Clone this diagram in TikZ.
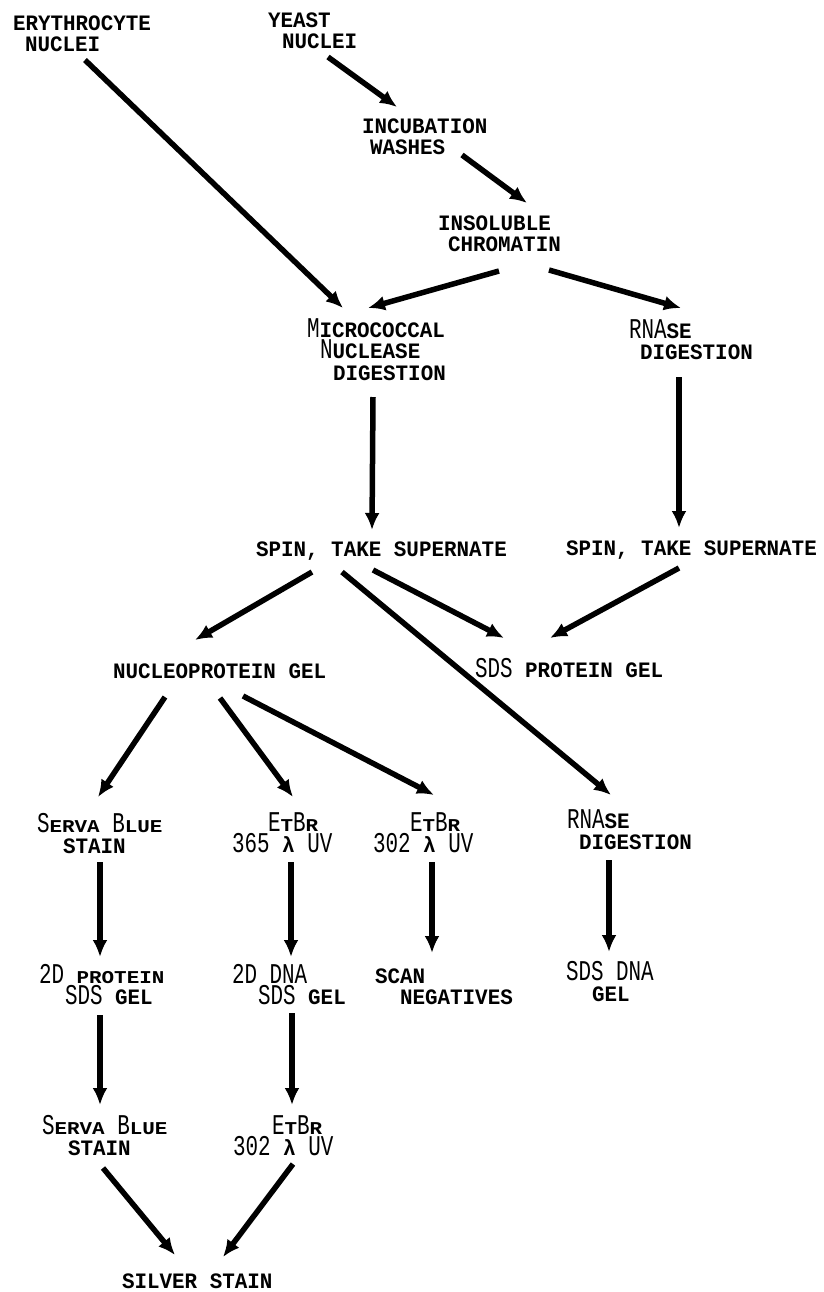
\documentclass[tikz,border=0pt]{standalone}
\usepackage{fontspec}
\usepackage{graphicx}
\usetikzlibrary{arrows.meta}
\newfontfamily\lblfont{Liberation Mono}[FakeStretch=0.95]
\newcommand\tall[1]{\scalebox{1}[1.3]{\mdseries #1}}
\newcommand\smc[1]{\scalebox{1}[0.82]{#1}}
\begin{document}
\begin{tikzpicture}[x=1bp,y=1bp,>={Latex[length=17bp,width=15bp]},line join=bevel,
  lbl/.style={anchor=base west,inner sep=0pt,outer sep=0pt,align=left,
    font=\lblfont\bfseries\fontsize{22bp}{21.5bp}\selectfont},
  flow/.style={->,line width=5.5bp}]
\useasboundingbox (0,0) rectangle (824,-1292);
%%
\node (ery) at (13,-51.5) [lbl] {ERYTHROCYTE\\\hspace*{12bp}NUCLEI};
\node (yeast) at (268,-48.5) [lbl] {YEAST\\\hspace*{14bp}NUCLEI};
\node (incub) at (362,-154.5) [lbl] {INCUBATION\\\hspace*{8bp}WASHES};
\node (insol) at (438,-251.5) [lbl] {INSOLUBLE\\\hspace*{10bp}CHROMATIN};
\node (micro) at (307,-380) [lbl] {\tall{M}ICROCOCCAL\\\hspace*{13bp}\tall{N}UCLEASE\\\hspace*{26bp}DIGESTION};
\node (rnasea) at (629,-359.5) [lbl] {\tall{RNA}SE\\\hspace*{11bp}DIGESTION};
\node (spina) at (256,-556) [lbl] {SPIN, TAKE SUPERNATE};
\node (spinb) at (566,-555) [lbl] {SPIN, TAKE SUPERNATE};
\node (nucgel) at (113,-678) [lbl] {NUCLEOPROTEIN GEL};
\node (sdsgel) at (475,-677) [lbl] {\tall{SDS} PROTEIN GEL};
\node (servaa) at (37,-853.5) [lbl] {\tall{S}\smc{ERVA} \tall{B}\smc{LUE}\\\hspace*{26bp}STAIN};
\node (etbra) at (232,-852.5) [lbl] {\hspace*{36bp}\tall{E}\smc{T}\tall{B}\smc{R}\\\tall{365} λ \tall{UV}};
\node (etbrb) at (373,-852.5) [lbl] {\hspace*{37bp}\tall{E}\smc{T}\tall{B}\smc{R}\\\tall{302} λ \tall{UV}};
\node (rnaseb) at (567,-849.5) [lbl] {\tall{RNA}SE\\\hspace*{12bp}DIGESTION};
\node (prot2d) at (39,-1004.5) [lbl] {\tall{2D} \smc{PROTEIN}\\\hspace*{26bp}\tall{SDS} GEL};
\node (dna2d) at (232,-1004.5) [lbl] {\tall{2D DNA}\\\hspace*{26bp}\tall{SDS} GEL};
\node (scan) at (375,-1004.5) [lbl] {SCAN\\\hspace*{25bp}NEGATIVES};
\node (sdsdna) at (566,-1001.5) [lbl] {\tall{SDS DNA}\\\hspace*{26bp}GEL};
\node (servab) at (42,-1155.5) [lbl] {\tall{S}\smc{ERVA} \tall{B}\smc{LUE}\\\hspace*{26bp}STAIN};
\node (etbrc) at (233,-1155.5) [lbl] {\hspace*{39bp}\tall{E}\smc{T}\tall{B}\smc{R}\\\tall{302} λ \tall{UV}};
\node (silver) at (122,-1288) [lbl] {SILVER STAIN};
%
\draw [flow] ([shift={(72,-8.5)}]ery.base west) -- ([shift={(36,72)}]micro.base west);
\draw [flow] ([shift={(60,-8.5)}]yeast.base west) -- ([shift={(35,47.5)}]incub.base west);
\draw [flow] ([shift={(100,-0.5)}]incub.base west) -- ([shift={(89,48.5)}]insol.base west);
\draw [flow] ([shift={(61,-19.5)}]insol.base west) -- ([shift={(61,72)}]micro.base west);
\draw [flow] ([shift={(111,-18.5)}]insol.base west) -- ([shift={(52,51.5)}]rnasea.base west);
\draw [flow] ([shift={(66,-17)}]micro.base west) -- ([shift={(116,26)}]spina.base west);
\draw [flow] ([shift={(50,-17.5)}]rnasea.base west) -- ([shift={(113,27)}]spinb.base west);
\draw [flow] ([shift={(56,-16)}]spina.base west) -- ([shift={(82,38)}]nucgel.base west);
\draw [flow] ([shift={(86,-16)}]spina.base west) -- ([shift={(44,54.5)}]rnaseb.base west);
\draw [flow] ([shift={(117,-14)}]spina.base west) -- ([shift={(29,39)}]sdsgel.base west);
\draw [flow] ([shift={(113,-13)}]spinb.base west) -- ([shift={(75,39)}]sdsgel.base west);
\draw [flow] ([shift={(52,-19)}]nucgel.base west) -- ([shift={(61,56.5)}]servaa.base west);
\draw [flow] ([shift={(107,-20)}]nucgel.base west) -- ([shift={(61,55.5)}]etbra.base west);
\draw [flow] ([shift={(130,-18)}]nucgel.base west) -- ([shift={(61,57.5)}]etbrb.base west);
\draw [flow] ([shift={(63,-8.5)}]servaa.base west) -- ([shift={(61,47.5)}]prot2d.base west);
\draw [flow] ([shift={(59,-9.5)}]etbra.base west) -- ([shift={(59,47.5)}]dna2d.base west);
\draw [flow] ([shift={(59,-9.5)}]etbrb.base west) -- ([shift={(57,51.5)}]scan.base west);
\draw [flow] ([shift={(42,-10.5)}]rnaseb.base west) -- ([shift={(43,49.5)}]sdsdna.base west);
\draw [flow] ([shift={(61,-10.5)}]prot2d.base west) -- ([shift={(58,50.5)}]servab.base west);
\draw [flow] ([shift={(60,-8.5)}]dna2d.base west) -- ([shift={(59,50.5)}]etbrc.base west);
\draw [flow] ([shift={(61,-12.5)}]servab.base west) -- ([shift={(53,33)}]silver.base west);
\draw [flow] ([shift={(60,-8.5)}]etbrc.base west) -- ([shift={(101,31)}]silver.base west);
%
\end{tikzpicture}
\end{document}
